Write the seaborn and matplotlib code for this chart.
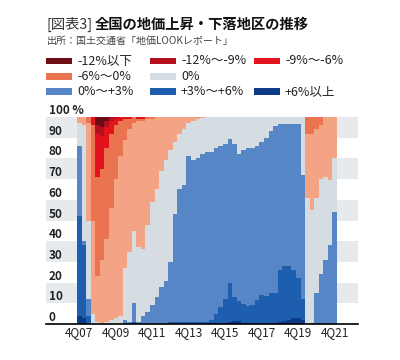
import pandas as pd
import matplotlib
matplotlib.use("Agg")
import matplotlib.pyplot as plt
import seaborn as sns
from matplotlib.patches import Rectangle

# ---------------------------------------------------
# Data: share of districts (%) per quarter, 4Q07 .. 4Q21
# ---------------------------------------------------
years = range(8, 22)
quarters = ["4Q07"] + [f"{q}Q{y:02d}" for y in years for q in (1, 2, 3, 4)]

below12 = [0, 0, 0, 0, 4, 5, 2, 0, 0, 0] + [0] * 47
down12 = [0, 0, 0, 0, 4, 4, 3, 2, 1, 0] + [0] * 47
down9 = [0, 0, 0, 4, 21, 16, 10, 6, 3, 2,
         1, 1, 0, 1, 1] + [0] * 42
down6 = [0, 0, 3, 46, 48, 44, 44, 36, 26, 17,
         10, 5, 3, 1, 1, 1, 1, 0, 0, 0,
         0, 0, 0, 0, 0, 0, 0, 0, 0, 0,
         0, 0, 0, 0, 0, 0, 0, 0, 0, 0,
         0, 0, 0, 0, 0, 0, 0, 0, 0, 0,
         8, 8, 6, 4, 0, 0, 0]
down3 = [3, 4, 47, 45, 22, 31, 40, 54, 67, 77,
         62, 59, 52, 61, 62, 51, 40, 35, 26, 21,
         16, 12, 8, 6, 3, 2, 1, 0.5, 0, 0,
         0, 0, 0, 0, 0, 0, 0, 0, 0, 0,
         0, 0, 0, 0, 0, 0, 0, 0, 0, 0,
         31, 37, 33, 26, 29, 30.5, 20]
flat = [11, 56, 38, 5, 1, 0, 1, 2, 3, 4,
        25, 34, 35, 36, 32, 42, 50, 52, 56, 58,
        54, 35, 27, 27, 16, 19, 19, 17.5, 17, 17,
        15, 14, 13, 10.5, 13, 18, 16, 15, 15, 14,
        12, 10, 7, 4.5, 3.5, 3.5, 3.5, 3.5, 3.5, 28,
        61, 54.5, 46, 46, 40, 31.5, 26]
up0 = [34, 2, 8, 0, 0, 0, 0, 0, 0, 0,
       2, 1, 9, 1, 4, 6, 9, 13, 18, 21,
       29, 52, 64, 66, 80, 78, 79, 81, 82, 81,
       80, 78, 75, 69.5, 74, 71, 74.5, 76.5, 76, 74.5,
       74, 76.5, 78, 80.5, 70.5, 68.5, 68.5, 70.5, 74.5, 60,
       0, 0.5, 15, 24, 31, 38, 54]
up3 = [48, 35, 4, 0, 0, 0, 0, 0, 0, 0,
       0, 0, 1, 0, 0, 0, 0, 0, 0, 0,
       1, 1, 1, 1, 1, 1, 1, 1, 0.5, 1.5,
       4.5, 7.5, 11.5, 19, 11.5, 9.5, 9, 8, 8.5, 11,
       13.5, 13, 14.5, 14.5, 25, 26.5, 26, 23, 19, 10,
       0, 0, 0, 0, 0, 0, 0]
up6 = [4, 3, 0, 0, 0, 0, 0, 0, 0, 0,
       0, 0, 0, 0, 0, 0, 0, 0, 0, 0,
       0, 0, 0, 0, 0, 0, 0, 0, 0.5, 0.5,
       0.5, 0.5, 0.5, 1, 1.5, 1.5, 0.5, 0.5, 0.5, 0.5,
       0.5, 0.5, 0.5, 0.5, 1, 1.5, 2, 3, 3, 2,
       0, 0, 0, 0, 0, 0, 0]

# stacking order, top to bottom
series = {
    "-12%以下": below12,
    "-12%〜-9%": down12,
    "-9%〜-6%": down9,
    "-6%〜-3%": down6,
    "-3%〜0%": down3,
    "0%": flat,
    "0%〜+3%": up0,
    "+3%〜+6%": up3,
    "+6%以上": up6,
}
colors = {
    "-12%以下": "#6b0d12",
    "-12%〜-9%": "#b30f1c",
    "-9%〜-6%": "#e3131e",
    "-6%〜-3%": "#ea7450",
    "-3%〜0%": "#f4a484",
    "0%": "#d5dce2",
    "0%〜+3%": "#5686c6",
    "+3%〜+6%": "#1d5fae",
    "+6%以上": "#0c3a86",
}

rows = []
for cat, vals in series.items():
    for i, v in enumerate(vals):
        rows.append((i, cat, v))
df = pd.DataFrame(rows, columns=["idx", "cat", "share"])

# ---------------------------------------------------
# Plot
# ---------------------------------------------------
sns.set_style("white")
plt.rcParams["font.family"] = ["Noto Sans CJK JP", "DejaVu Sans"]

W, H = 400, 360
fig = plt.figure(figsize=(4, 3.6), dpi=100)
ax = fig.add_axes([46 / W, 36 / H, 312 / W, 207 / H])

# striped background bands
for lo in range(10, 100, 20):
    ax.axhspan(lo, lo + 10, color="#e7eaed", lw=0, zorder=0)

sns.histplot(data=df, x="idx", weights="share", hue="cat",
             hue_order=list(series.keys()), multiple="stack",
             discrete=True, shrink=1, palette=colors, alpha=1,
             linewidth=0, antialiased=False, legend=False, ax=ax, zorder=2)

ax.set_xlim(-7.3, 61.1)
ax.set_ylim(0, 100)
ax.set_xlabel("")
ax.set_ylabel("")
for s in ["top", "right", "left"]:
    ax.spines[s].set_visible(False)
ax.spines["bottom"].set_color("black")
ax.spines["bottom"].set_linewidth(1.2)
ax.spines["bottom"].set_zorder(5)

ax.set_yticks(range(0, 101, 10))
ax.set_yticklabels([str(v) for v in range(0, 100, 10)] + ["100 %"],
                   fontsize=8.5, fontweight="bold", color="#222222")
ax.tick_params(axis="y", length=0, pad=-2)
for lab in ax.get_yticklabels():
    lab.set_horizontalalignment("left")
    lab.set_verticalalignment("bottom")

ax.set_xticks(range(0, 57, 8))
ax.set_xticklabels(quarters[::8], fontsize=8.5, color="#222222")
ax.tick_params(axis="x", length=0, pad=1.5)

# title
t1 = fig.text(47 / W, 1 - 24.5 / H, "[図表3]", fontsize=10.3,
              color="#333333", va="center", ha="left")
fig.canvas.draw()
bb = t1.get_window_extent()
fig.text((bb.x1 + 2) / W, 1 - 24.5 / H, "全国の地価上昇・下落地区の推移",
         fontsize=10.3, fontweight="bold", color="#111111", va="center", ha="left")
fig.text(47 / W, 1 - 40.5 / H, "出所：国土交通省「地価LOOKレポート」",
         fontsize=7.2, color="#444444", va="center", ha="left")

# legend (manual layout like the original)
legend_items = [
    ("-12%以下", "-12%以下", 46, 61),
    ("-12%〜-9%", "-12%〜-9%", 150, 61),
    ("-9%〜-6%", "-9%〜-6%", 254, 61),
    ("-6%〜-3%", "-6%〜0%", 46, 76.5),
    ("0%", "0%", 150, 76.5),
    ("0%〜+3%", "0%〜+3%", 46, 91.5),
    ("+3%〜+6%", "+3%〜+6%", 150, 91.5),
    ("+6%以上", "+6%以上", 254, 91.5),
]
for key, label, x, y in legend_items:
    fig.patches.append(Rectangle((x / W, 1 - (y + 3) / H), 26 / W, 6 / H,
                                 transform=fig.transFigure, figure=fig,
                                 color=colors[key], lw=0))
    fig.text((x + 31) / W, 1 - y / H, label, fontsize=9, color="#222222",
             va="center", ha="left")

fig.savefig("out.png", dpi=100)
plt.close()
